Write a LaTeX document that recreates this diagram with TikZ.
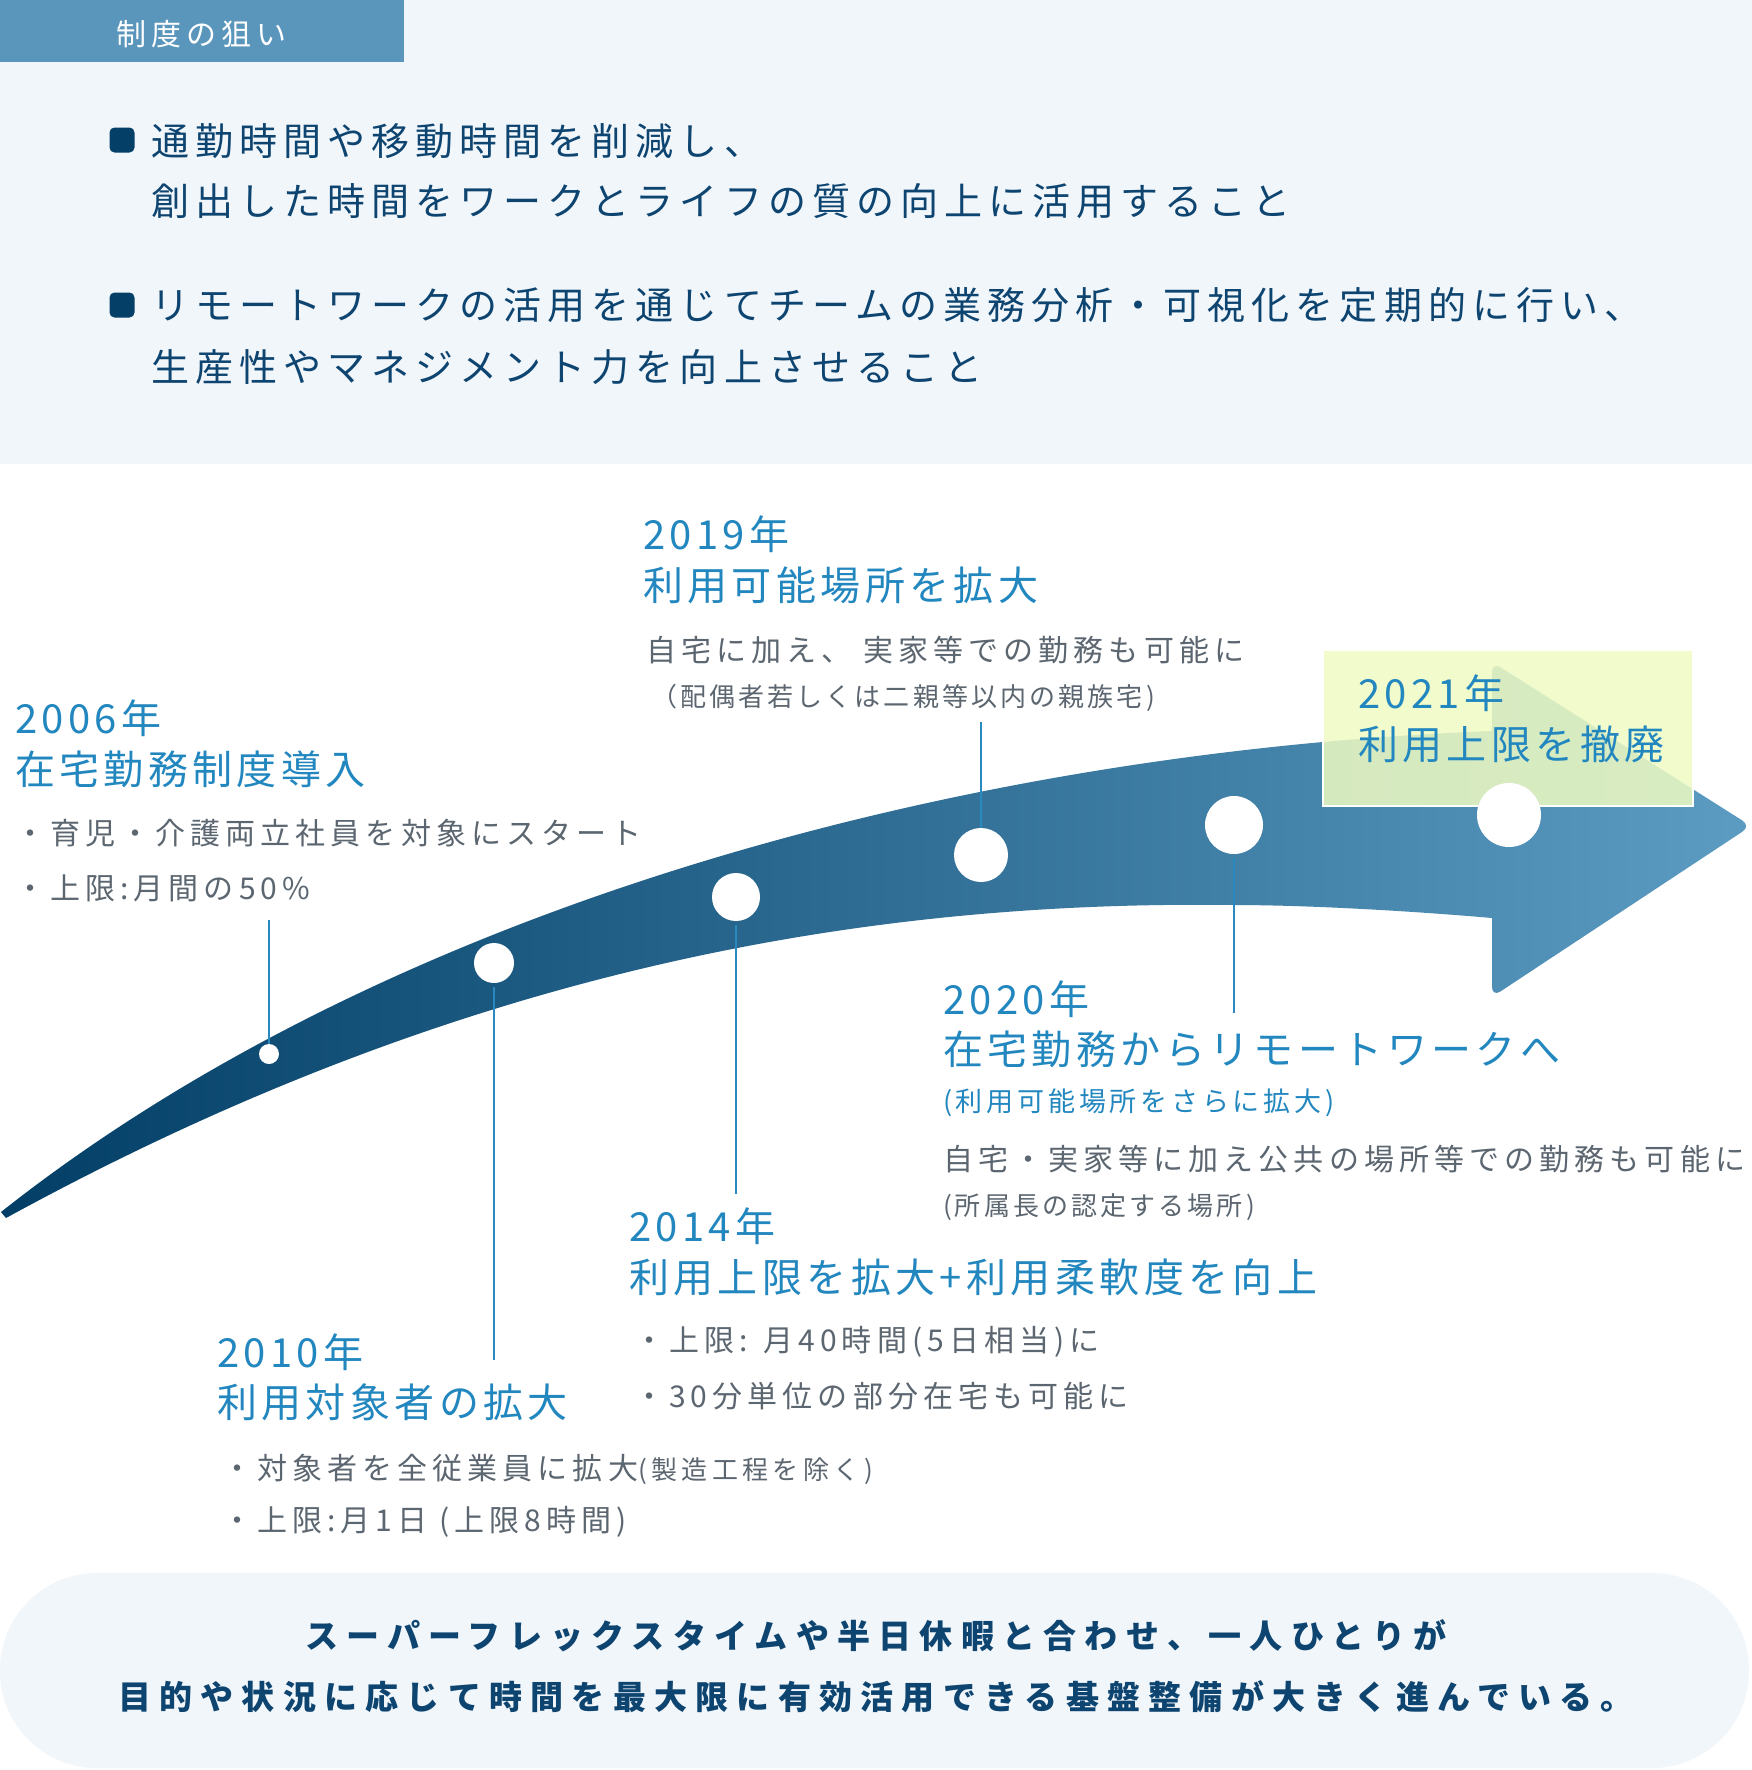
\documentclass[tikz,border=0pt]{standalone}
\usepackage{fontspec}
\newfontfamily\jp{Noto Sans CJK JP}
\definecolor{panelbg}{HTML}{F1F6FB}
\definecolor{tabblue}{HTML}{5A96BC}
\definecolor{navy}{HTML}{0D4470}
\definecolor{bulnavy}{HTML}{033F66}
\definecolor{ttlblue}{HTML}{2387BF}
\definecolor{gry}{HTML}{5C6670}
\definecolor{linkblue}{HTML}{2A8AC0}
\definecolor{arrowdark}{HTML}{023E66}
\definecolor{arrowlight}{HTML}{5C9CC2}
\definecolor{boxyellow}{HTML}{EFFBC3}
\begin{document}
\begin{tikzpicture}[x=1pt,y=-1pt,
  every node/.style={inner sep=0pt,outer sep=0pt},
  tabtxt/.style={anchor=west,text=white,font=\jp\fontsize{30}{30}\selectfont\addfontfeature{LetterSpace=17}},
  bultxt/.style={anchor=west,text=navy,font=\jp\fontsize{38}{38}\selectfont\addfontfeature{LetterSpace=16}},
  bulsq/.style={fill=bulnavy,rounded corners=5pt,minimum width=25pt,minimum height=25pt},
  ttl/.style={anchor=west,text=ttlblue,font=\jp\fontsize{40}{40}\selectfont\addfontfeature{LetterSpace=11}},
  body/.style={anchor=west,text=gry,font=\jp\fontsize{30}{30}\selectfont\addfontfeature{LetterSpace=17}},
  small/.style={anchor=west,text=gry,font=\jp\fontsize{26}{26}\selectfont\addfontfeature{LetterSpace=12}},
  smallblue/.style={anchor=west,text=ttlblue,font=\jp\fontsize{27}{27}\selectfont\addfontfeature{LetterSpace=14}},
  dot/.style={circle,fill=white,inner sep=0pt},
  conn/.style={draw=linkblue,line width=2pt},
  foot/.style={anchor=center,text=navy,font=\jp\bfseries\fontsize{33}{33}\selectfont\addfontfeature{LetterSpace=25}}
]
\useasboundingbox (0,0) rectangle (1752,1770);
\fill[white] (0,0) rectangle (1752,1770);
% top panel
\fill[panelbg] (0,0) rectangle (1752,464);
\fill[tabblue] (0,0) rectangle (404,62);
\node[tabtxt] (tab) at (116,34) {制度の狙い};
\node[bulsq] (b1) at (122,140) {};
\node[bultxt] (t1a) at (151,141) {通勤時間や移動時間を削減し、};
\node[bultxt] (t1b) at (151,201) {創出した時間をワークとライフの質の向上に活用すること};
\node[bulsq] (b2) at (122,305) {};
\node[bultxt] (t2a) at (151,305) {リモートワークの活用を通じてチームの業務分析・可視化を定期的に行い、};
\node[bultxt] (t2b) at (151,367) {生産性やマネジメント力を向上させること};
% arrow
\shade[left color=arrowdark,right color=arrowlight]
  (1,1212) .. controls (380,912) and (950,752) .. (1492,731)
  [rounded corners=10pt] -- (1492,662) -- (1751,826) -- (1492,997) [sharp corners] -- (1492,918)
  .. controls (1400,910) and (1300,905) .. (1234,905)
  .. controls (850,900) and (450,975) .. (6,1218) -- cycle;
% 2021 box
\fill[boxyellow,fill opacity=0.85] (1323,650) rectangle (1693,806);
\draw[white,line width=1.5pt] (1323,650) rectangle (1693,806);
% dots
\node[dot,minimum size=20pt] (d06) at (269,1054) {};
\node[dot,minimum size=40pt] (d10) at (494,963) {};
\node[dot,minimum size=48pt] (d14) at (736,897) {};
\node[dot,minimum size=54pt] (d19) at (981,855) {};
\node[dot,minimum size=58pt] (d20) at (1234,825) {};
\node[dot,minimum size=64pt] (d21) at (1509,815) {};
% connector ends
\coordinate (e06) at (269,920);
\coordinate (e10) at (494,1360);
\coordinate (e14) at (736,1194);
\coordinate (e19) at (981,722);
\coordinate (e20) at (1234,1013);
\draw[conn] (e06) -- (d06.north);
\draw[conn] ([yshift=-4pt]d10.south) -- (e10);
\draw[conn] ([yshift=-4pt]d14.south) -- (e14);
\draw[conn] (e19) -- (d19.north);
\draw[conn] ([yshift=-4pt]d20.south) -- (e20);
% 2006
\node[ttl] (y06) at (15,718) {2006年};
\node[ttl] (h06) at (15,769) {在宅勤務制度導入};
\node[body] (a06) at (15,833) {・育児・介護両立社員を対象にスタート};
\node[body] (b06) at (15,888) {・上限:月間の50\%};
% 2010
\node[ttl] (y10) at (217,1352) {2010年};
\node[ttl] (h10) at (217,1402) {利用対象者の拡大};
\node[body] (a10) at (222,1469) {・対象者を全従業員に拡大{\fontsize{26}{26}\selectfont(製造工程を除く)}};
\node[body] (b10) at (222,1522) {・上限:月1日 (上限8時間)};
% 2014
\node[ttl] (y14) at (629,1226) {2014年};
\node[ttl] (h14) at (629,1277) {利用上限を拡大+利用柔軟度を向上};
\node[body] (a14) at (634,1342) {・上限: 月40時間(5日相当)に};
\node[body] (b14) at (634,1396) {・30分単位の部分在宅も可能に};
% 2019
\node[ttl] (y19) at (643,534) {2019年};
\node[ttl] (h19) at (643,585) {利用可能場所を拡大};
\node[body] (a19) at (646,650) {自宅に加え、 実家等での勤務も可能に};
\node[small] (b19) at (651,698) {（配偶者若しくは二親等以内の親族宅)};
% 2020
\node[ttl] (y20) at (943,999) {2020年};
\node[ttl] (h20) at (943,1049) {在宅勤務からリモートワークへ};
\node[smallblue] (s20) at (943,1103) {(利用可能場所をさらに拡大)};
\node[body] (a20) at (943,1159) {自宅・実家等に加え公共の場所等での勤務も可能に};
\node[small] (b20) at (943,1207) {(所属長の認定する場所)};
% 2021
\node[ttl] (y21) at (1358,693) {2021年};
\node[ttl] (h21) at (1358,744) {利用上限を撤廃};
% footer
\fill[panelbg,rounded corners=97pt] (0,1573) rectangle (1749,1768);
\node[foot] (f1) at (876,1636) {スーパーフレックスタイムや半日休暇と合わせ、一人ひとりが};
\node[foot] (f2) at (876,1697) {目的や状況に応じて時間を最大限に有効活用できる基盤整備が大きく進んでいる。};
\end{tikzpicture}
\end{document}
